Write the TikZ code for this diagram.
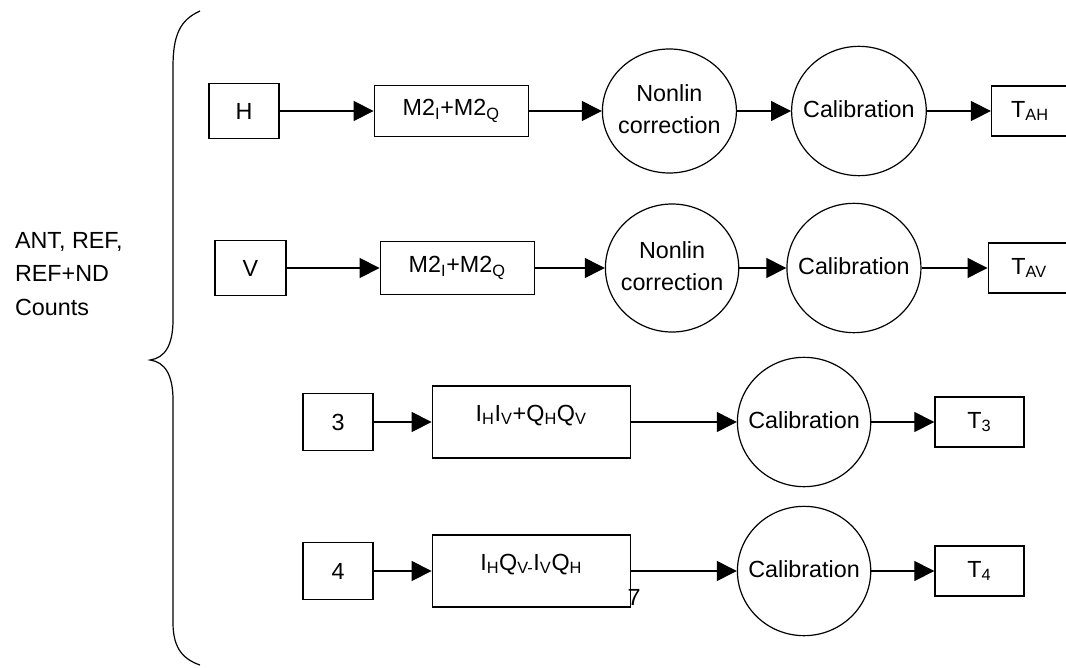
\documentclass[tikz,border=0pt]{standalone}
\usepackage{fontspec}
\setmainfont{Liberation Sans}
\usetikzlibrary{arrows.meta}
\usetikzlibrary{shapes.geometric}
\usetikzlibrary{positioning}
\newcommand{\inoval}[1]{\makebox[0pt]{\begin{tabular}{@{}c@{}}#1\end{tabular}}}
\tikzset{
  ->,
  >={Triangle[length=15pt,width=15pt]},
  every node/.style={font=\fontsize{17.5}{21}\selectfont},
  block/.style={draw, rectangle, inner sep=1pt},
  proc/.style={draw, ellipse, inner sep=0pt,
    font=\fontsize{17.5}{24}\selectfont},
}

\begin{document}
\begin{tikzpicture}[x=0.75pt, y=-0.75pt, line width=0.9pt]
    \useasboundingbox (0,0) rectangle (1066,667);
    \node [anchor=west, align=left, font=\fontsize{17.5}{25}\selectfont] (counts) at (10,274) {ANT, REF,\\REF+ND\\Counts};
    \draw [-] (200,11) .. controls (180,20) and (173,35) .. (173,67) -- (173,320)
      .. controls (173,345) and (165,358) .. (150,360)
      .. controls (165,362) and (173,375) .. (173,400) -- (173,623)
      .. controls (173,650) and (185,660) .. (200,665);
    % H channel
    \node [block, minimum width=52.5pt, minimum height=41.25pt] (h) at (244,111) {H};
    \node [block, minimum width=115.5pt, minimum height=38.25pt, right=70.5pt of h] (m2h) {M2\textsubscript{I}+M2\textsubscript{Q}};
    \node [proc, minimum width=100.5pt, minimum height=93pt, right=54.75pt of m2h] (nlh) {\inoval{Nonlin\\correction}};
    \node [proc, minimum width=101pt, minimum height=97pt, right=40.5pt of nlh] (calh) {\inoval{Calibration}};
    \node [block, minimum width=57.75pt, minimum height=37.5pt, right=48pt of calh] (tah) {T\textsubscript{AH}};
    \draw (h) edge (m2h);
    \draw (m2h) edge (nlh);
    \draw (nlh) edge (calh);
    \draw (calh) edge (tah);
    % V channel
    \node [block, minimum width=53.25pt, minimum height=41.25pt] (v) at (250.5,268) {V};
    \node [block, minimum width=115.5pt, minimum height=39.75pt, right=69.75pt of v] (m2v) {M2\textsubscript{I}+M2\textsubscript{Q}};
    \node [proc, minimum width=100pt, minimum height=96pt, right=52.5pt of m2v] (nlv) {\inoval{Nonlin\\correction}};
    \node [proc, minimum width=100.5pt, minimum height=97pt, right=35.25pt of nlv] (calv) {\inoval{Calibration}};
    \node [block, minimum width=61.5pt, minimum height=37.5pt, right=49.5pt of calv] (tav) {T\textsubscript{AV}};
    \draw (v) edge (m2v);
    \draw (m2v) edge (nlv);
    \draw (nlv) edge (calv);
    \draw (calv) edge (tav);
    % third channel
    \node [block, minimum width=52.5pt, minimum height=42.75pt] (c3) at (338,422) {3};
    \node [block, minimum width=148.5pt, minimum height=54pt, right=43.5pt of c3] (iq3) {\raisebox{13.5pt}{I\textsubscript{H}I\textsubscript{V}+Q\textsubscript{H}Q\textsubscript{V}}};
    \node [proc, minimum width=100pt, minimum height=97pt, right=79.5pt of iq3] (cal3) {\inoval{Calibration}};
    \node [block, minimum width=66.75pt, minimum height=37.5pt, right=47.25pt of cal3] (t3) {T\textsubscript{3}};
    \draw (c3) edge (iq3);
    \draw (iq3) edge (cal3);
    \draw (cal3) edge (t3);
    % fourth channel
    \node [block, minimum width=52.5pt, minimum height=42.75pt] (c4) at (338,571) {4};
    \node [block, minimum width=148.5pt, minimum height=54pt, right=43.5pt of c4] (iq4) {\raisebox{13.5pt}{I\textsubscript{H}Q\textsubscript{V-}I\textsubscript{V}Q\textsubscript{H}}};
    \node [proc, minimum width=100pt, minimum height=97pt, right=79.5pt of iq4] (cal4) {\inoval{Calibration}};
    \node [block, minimum width=66.75pt, minimum height=37.5pt, right=47.25pt of cal4] (t4) {T\textsubscript{4}};
    \draw (c4) edge (iq4);
    \draw (iq4) edge (cal4);
    \draw (cal4) edge (t4);
    \node (pg) at (634,597) {7};
\end{tikzpicture}
\end{document}
